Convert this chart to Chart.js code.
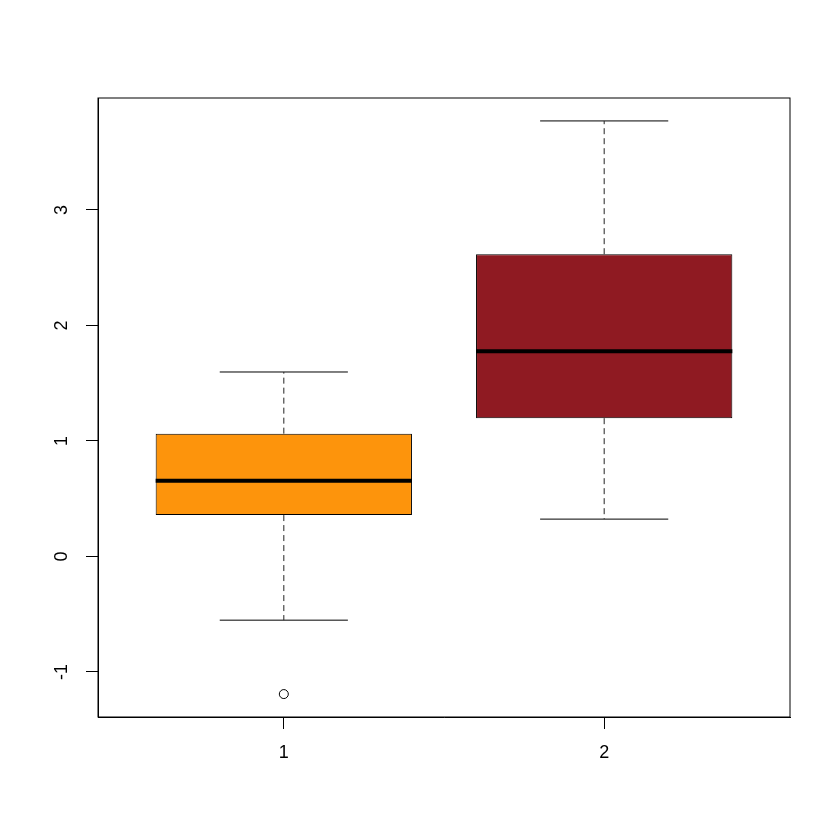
<!DOCTYPE html>
<html>
<head>
<meta charset="utf-8">
<script src="https://cdn.jsdelivr.net/npm/chart.js@4"></script>
<style>
  html, body { margin: 0; padding: 0; background: #fff; }
  #wrap { width: 840px; height: 840px; }
</style>
</head>
<body>
<div id="wrap"><canvas id="box" width="840" height="840"></canvas></div>
<script>
// ========= DATA ========= //
const groups = [1, 2];
const lowerWhisker = [-0.552, 0.323];
const lowerQuartile = [0.358, 1.197];
const medians = [0.656, 1.776];
const upperQuartile = [1.063, 2.617];
const upperWhisker = [1.597, 3.771];
const outlierGroup = [1];
const outlierValue = [-1.192];
const boxColors = ["#fd940c", "#8f1a22"];
const yTicks = [-1, 0, 1, 2, 3];

// ========= HELPERS ========= //
// join segments into one line dataset, broken with null points
function segments(list) {
    let out = [];
    list.forEach(s => {
        out.push({ x: s[0], y: s[1] }, { x: s[2], y: s[3] }, { x: s[2], y: null });
    });
    return out;
}

const stems = [];
const caps = [];
const medLines = [];
groups.forEach((g, i) => {
    stems.push([g, upperQuartile[i], g, upperWhisker[i]]);
    stems.push([g, lowerQuartile[i], g, lowerWhisker[i]]);
    caps.push([g - 0.2, upperWhisker[i], g + 0.2, upperWhisker[i]]);
    caps.push([g - 0.2, lowerWhisker[i], g + 0.2, lowerWhisker[i]]);
    medLines.push([g - 0.4, medians[i], g + 0.4, medians[i]]);
});

// R style limits: data range stretched 4%
const allVals = lowerWhisker.concat(upperWhisker, outlierValue);
const lo = Math.min(...allVals), hi = Math.max(...allVals);
const pad = (hi - lo) * 0.04;
const xLo = 0.5 - 0.08, xHi = groups.length + 0.5 + 0.08;

const frame = {
    id: "frame",
    afterDraw(chart) {
        const a = chart.chartArea, ctx = chart.ctx;
        ctx.save();
        ctx.strokeStyle = "#000";
        ctx.lineWidth = 1;
        ctx.strokeRect(a.left, a.top, a.right - a.left, a.bottom - a.top);
        ctx.restore();
    }
};

const font = { family: "'Liberation Sans', Arial, sans-serif", size: 18 };

// ========= CHART ========= //
new Chart(document.getElementById("box"), {
    type: "line",
    data: {
        datasets: [
            {
                type: "line", order: 0, data: segments(medLines),
                borderColor: "#000", borderWidth: 4, pointRadius: 0, spanGaps: false
            },
            {
                type: "bar", order: 1,
                data: groups.map((g, i) => ({ x: g, y: [lowerQuartile[i], upperQuartile[i]] })),
                backgroundColor: boxColors, borderColor: "#000", borderWidth: 1,
                borderSkipped: false, barPercentage: 1, categoryPercentage: 0.8
            },
            {
                type: "line", order: 2, data: segments(stems),
                borderColor: "#222", borderWidth: 1, borderDash: [6, 4],
                pointRadius: 0, spanGaps: false
            },
            {
                type: "line", order: 2, data: segments(caps),
                borderColor: "#000", borderWidth: 1, pointRadius: 0, spanGaps: false
            },
            {
                type: "scatter", order: 0,
                data: outlierGroup.map((g, i) => ({ x: g, y: outlierValue[i] })),
                showLine: false, pointStyle: "circle", pointRadius: 4.5,
                backgroundColor: "rgba(0,0,0,0)", borderColor: "#000", borderWidth: 1
            }
        ]
    },
    options: {
        responsive: false,
        animation: false,
        layout: { padding: { top: 98, right: 50, left: 0, bottom: 0 } },
        plugins: { legend: { display: false }, tooltip: { enabled: false } },
        elements: { line: { tension: 0 } },
        scales: {
            x: {
                type: "linear", min: xLo, max: xHi, offset: false,
                afterBuildTicks: s => { s.ticks = groups.map(v => ({ value: v })); },
                afterFit: s => { s.height = 123; },
                grid: { offset: false, drawOnChartArea: false, drawTicks: true, tickLength: 12, color: "#000" },
                border: { display: true, color: "#000" },
                ticks: { color: "#000", font: font, padding: 13, maxRotation: 0, callback: v => String(v) }
            },
            y: {
                type: "linear", min: lo - pad, max: hi + pad,
                afterBuildTicks: s => { s.ticks = yTicks.map(v => ({ value: v })); },
                afterFit: s => { s.width = 98; },
                grid: { drawOnChartArea: false, drawTicks: true, tickLength: 12, color: "#000" },
                border: { display: true, color: "#000" },
                ticks: {
                    color: "#000", font: font, padding: 16,
                    minRotation: 90, maxRotation: 90, crossAlign: "center",
                    callback: v => String(v)
                }
            }
        }
    },
    plugins: [frame]
});
</script>
</body>
</html>
